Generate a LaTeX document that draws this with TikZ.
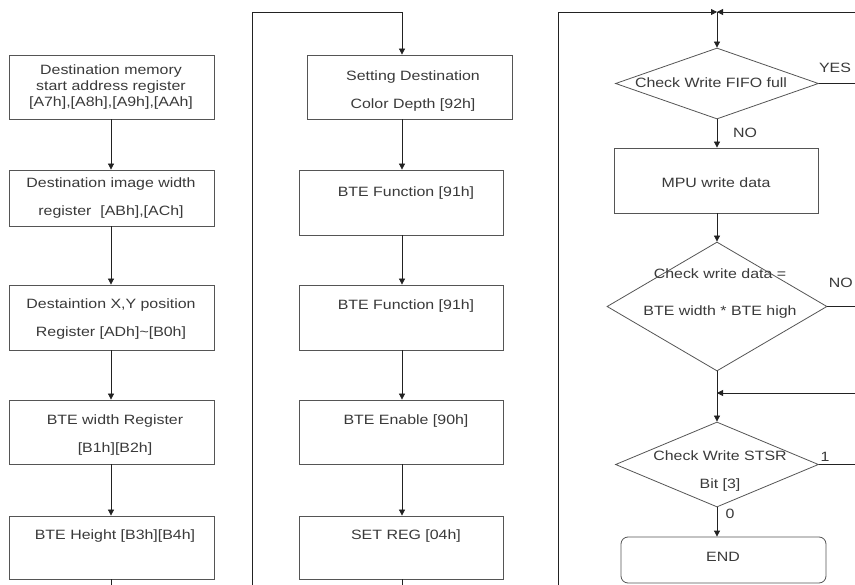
\documentclass[tikz,border=0pt]{standalone}
\usepackage{fontspec}
\setmainfont[FakeStretch=1.18]{Liberation Sans}
\usetikzlibrary{arrows.meta,shapes.geometric}
\definecolor{txt}{HTML}{3A3A3A}
\definecolor{brd}{HTML}{555555}
\definecolor{ln}{HTML}{222222}
\begin{document}
\begin{tikzpicture}[x=1pt,y=-1pt,
  box/.style={draw=brd,line width=0.8pt,inner sep=0pt},
  dia/.style={diamond,draw=brd,line width=0.8pt,inner sep=0pt},
  lbl/.style={text=txt,inner sep=0pt,align=center,font=\fontsize{13.5}{28}\selectfont},
  lblA/.style={text=txt,inner sep=0pt,align=center,font=\fontsize{13.5}{16}\selectfont},
  lblB/.style={text=txt,inner sep=0pt,align=center,font=\fontsize{13.5}{37}\selectfont},
  arr/.style={draw=ln,line width=0.8pt,-{Triangle[length=6pt,width=6pt]}},
  con/.style={draw=ln,line width=0.8pt}]
\useasboundingbox (0,0) rectangle (855,585);
\clip (0,0) rectangle (855,585);
\fill[white] (0,0) rectangle (855,585);

% left column
\node[box,minimum width=205pt,minimum height=64pt] (L1) at (111.5,87) {};
\node[box,minimum width=205pt,minimum height=56pt] (L2) at (111.5,198) {};
\node[box,minimum width=205pt,minimum height=65pt] (L3) at (111.5,317.5) {};
\node[box,minimum width=205pt,minimum height=64pt] (L4) at (111.5,432) {};
\node[box,minimum width=205pt,minimum height=63pt] (L5) at (111.5,547.5) {};
\node[lblA] (tL1) at (111,87) {Destination memory\\{}start address register\\{}[A7h],[A8h],[A9h],[AAh]};
\node[lbl] (tL2) at (111,198) {Destination image width\\{}register\ \ [ABh],[ACh]};
\node[lbl] (tL3) at (111,319.5) {Destaintion X,Y position\\{}Register [ADh]\textasciitilde[B0h]};
\node[lbl] (tL4) at (115,435.5) {BTE width Register\\{}[B1h][B2h]};
\node[lbl] (tL5) at (115,536) {BTE Height [B3h][B4h]};
\coordinate (Lend) at (111,585);

% middle column
\node[box,minimum width=205pt,minimum height=64pt] (M1) at (409.5,87) {};
\node[box,minimum width=204pt,minimum height=65pt] (M2) at (401,202.5) {};
\node[box,minimum width=204pt,minimum height=65pt] (M3) at (401,317.5) {};
\node[box,minimum width=204pt,minimum height=64pt] (M4) at (401,432) {};
\node[box,minimum width=204pt,minimum height=63pt] (M5) at (401,547.5) {};
\node[lbl] (tM1) at (413,91) {Setting Destination\\{}Color Depth [92h]};
\node[lbl] (tM2) at (406,193) {BTE Function [91h]};
\node[lbl] (tM3) at (406,306) {BTE Function [91h]};
\node[lbl] (tM4) at (406,421) {BTE Enable [90h]};
\node[lbl] (tM5) at (406,536) {SET REG [04h]};
\coordinate (Mend) at (402,585);
\coordinate (LoopA) at (252,585);
\coordinate (LoopB) at (402,12);

% right column
\node[dia,minimum width=203pt,minimum height=71pt] (D1) at (717,83.5) {};
\node[box,minimum width=204pt,minimum height=65pt] (MPU) at (716,180.5) {};
\node[dia,minimum width=220pt,minimum height=129pt] (D2) at (717,306.5) {};
\node[dia,minimum width=203pt,minimum height=85pt] (D3) at (717,464.5) {};
\node[box,rounded corners=7pt,minimum width=205pt,minimum height=46pt] (END) at (723.5,560) {};
\node[lbl] (tD1) at (711,83) {Check Write FIFO full};
\node[lbl] (tMPU) at (716,183) {MPU write data};
\node[lblB] (tD2) at (720,293.5) {Check write data =\\{}BTE width * BTE high};
\node[lbl] (tD3) at (720,471) {Check Write STSR\\{}Bit [3]};
\node[lbl] (tEND) at (723,557) {END};
\node[lbl] (yes) at (835,68) {YES};
\node[lbl] (no1) at (745,133) {NO};
\node[lbl,anchor=east] (no2) at (853,283) {NO};
\node[lbl] (one) at (825,457) {1};
\node[lbl] (zero) at (730,514) {0};

\coordinate (RloopA) at (558,585);
\coordinate (Rtop) at (717,12);
\coordinate (RtopR) at (855,12);
\coordinate (E1) at (855,83.5);
\coordinate (E2) at (855,306.5);
\coordinate (E3) at (855,464.5);
\coordinate (Ret) at (855,393);
\coordinate (Mrg) at (717,393);

% connectors left
\draw[arr] (111,0 |- L1.south) -- (111,0 |- L2.north);
\draw[arr] (111,0 |- L2.south) -- (111,0 |- L3.north);
\draw[arr] (111,0 |- L3.south) -- (111,0 |- L4.north);
\draw[arr] (111,0 |- L4.south) -- (111,0 |- L5.north);
\draw[con] (Lend |- L5.south) -- (Lend);
% loop to middle
\draw[arr] (LoopA) |- (LoopB) -- (LoopB |- M1.north);
% middle
\draw[arr] (402,0 |- M1.south) -- (402,0 |- M2.north);
\draw[arr] (402,0 |- M2.south) -- (402,0 |- M3.north);
\draw[arr] (402,0 |- M3.south) -- (402,0 |- M4.north);
\draw[arr] (402,0 |- M4.south) -- (402,0 |- M5.north);
\draw[con] (Mend |- M5.south) -- (Mend);
% loop to right
\draw[arr] (RloopA) |- (Rtop);
\draw[arr] (RtopR) -- (Rtop);
\draw[arr] (Rtop) -- (D1.north);
\draw[con] (D1.east) -- (E1);
\draw[arr] (D1.south) -- (D1.south |- MPU.north);
\draw[arr] (D1.south |- MPU.south) -- (D2.north);
\draw[con] (D2.east) -- (E2);
\draw[arr] (D2.south) -- (D3.north);
\draw[arr] (Ret) -- (Mrg);
\draw[con] (D3.east) -- (E3);
\draw[arr] (D3.south) -- (D3.south |- END.north);
\end{tikzpicture}
\end{document}
